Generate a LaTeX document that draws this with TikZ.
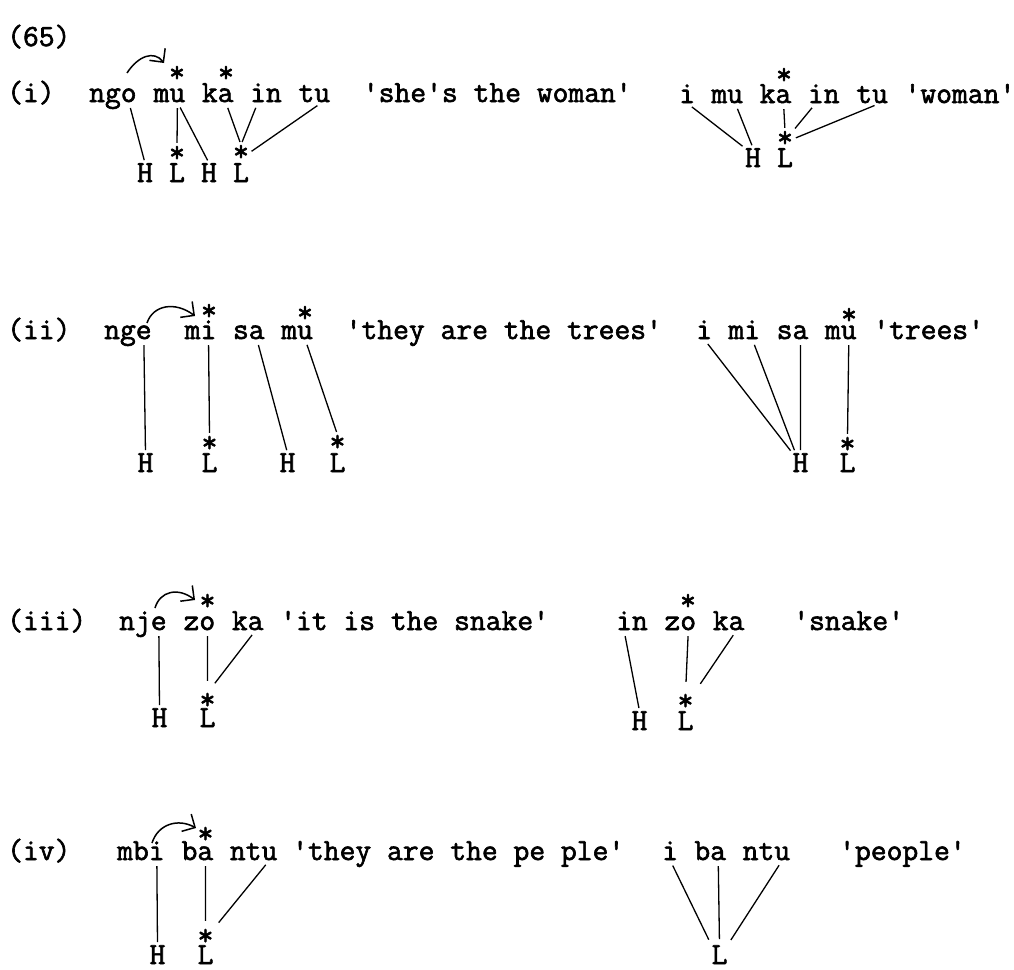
\documentclass[tikz,border=0pt]{standalone}
\usepackage{fontspec}
\setmonofont{Latin Modern Mono}[FakeBold=2]
\usepackage{tikz}
\usetikzlibrary{arrows.meta}

\begin{document}
\begin{tikzpicture}[x=1pt,y=1pt,
    every node/.style={font=\ttfamily\fontsize{30.7}{36}\selectfont, inner sep=0pt},
    syl/.style={anchor=base west, text depth=0pt},
    gloss/.style={anchor=base west},
    tone/.style={anchor=base},
    ast/.style={anchor=center},
    link/.style={line width=1.3pt, shorten <=6pt, shorten >=3pt},
    hop/.style={-{Straight Barb[scale=2.2]}, line width=1.5pt}]

\useasboundingbox (0,0) rectangle (1014,-969);

%---------------- Labels ----------------%
\node[gloss] (ex65) at (7,-46) {(65)};
\node[gloss] (lab1) at (7,-102) {(i)};
\node[gloss] (lab2) at (7,-339) {(ii)};
\node[gloss] (lab3) at (7,-630) {(iii)};
\node[gloss] (lab4) at (7,-860) {(iv)};

%---------------- (i) ----------------%
\node[syl] (ngo) at (89,-102) {ngo};
\node[syl] (mu1) at (153.4,-102) {mu};
\node[syl] (ka1) at (201.7,-102) {ka};
\node[syl] (in1) at (250,-102) {in};
\node[syl] (tu1) at (298.3,-102) {tu};
\node[gloss] (g1) at (362.7,-102) {'she's the woman'};
\node[ast] (s-mu1) at (177,-74) {*};
\node[ast] (s-ka1) at (226,-74) {*};

\node[tone] (H1a) at (145,-182) {H};
\node[tone] (L1a) at (177,-182) {L};
\node[tone] (H1b) at (209,-182) {H};
\node[tone] (L1b) at (241,-182) {L};
\node[ast] (s-L1a) at (177,-154) {*};
\node[ast] (s-L1b) at (241,-153) {*};

\draw[link] ([xshift=-8pt]ngo.south east) -- (H1a.north);
\draw[link] ([xshift=-8pt]mu1.south east) -- (s-L1a.north);
\draw[link] ([xshift=-8pt]mu1.south east) -- (H1b.north);
\draw[link] ([xshift=-8pt]ka1.south east) -- (s-L1b.north);
\draw[link] ([xshift=8pt]in1.south west) -- (s-L1b.north);
\draw[link] ([xshift=-8pt]tu1.south east) -- (s-L1b.east);

\coordinate (hop1s) at (127,-73);
\coordinate (hop1e) at (164,-63);
\draw[hop] (hop1s) .. controls (138,-56) and (154,-50) .. (hop1e);

\node[syl] (i1) at (679,-103) {i};
\node[syl] (mu1r) at (711.2,-103) {mu};
\node[syl] (ka1r) at (759.5,-103) {ka};
\node[syl] (in1r) at (807.8,-103) {in};
\node[syl] (tu1r) at (856.1,-103) {tu};
\node[gloss] (g1r) at (904.4,-103) {'woman'};
\node[ast] (s-ka1r) at (784,-76) {*};

\node[tone] (H1r) at (753,-167) {H};
\node[tone] (L1r) at (785,-167) {L};
\node[ast] (s-L1r) at (785,-139) {*};

\draw[link] (i1.south) -- (H1r.north west);
\draw[link] ([xshift=-8pt]mu1r.south east) -- (H1r.north);
\draw[link] ([xshift=-8pt]ka1r.south east) -- (s-L1r.north);
\draw[link] ([xshift=8pt]in1r.south west) -- (s-L1r.north east);
\draw[link] ([xshift=-8pt]tu1r.south east) -- (s-L1r.east);

%---------------- (ii) ----------------%
\node[syl] (nge) at (104,-339) {nge};
\node[syl] (mi2) at (184.5,-339) {mi};
\node[syl] (sa2) at (232.8,-339) {sa};
\node[syl] (mu2) at (281.1,-339) {mu};
\node[gloss] (g2) at (345.5,-339) {'they are the trees'};
\node[ast] (s-mi2) at (209,-312) {*};
\node[ast] (s-mu2) at (305,-314) {*};

\node[tone] (H2a) at (145.5,-472) {H};
\node[tone] (L2a) at (209.5,-472) {L};
\node[tone] (H2b) at (287.5,-472) {H};
\node[tone] (L2b) at (337.5,-472) {L};
\node[ast] (s-L2a) at (209.5,-444) {*};
\node[ast] (s-L2b) at (337.5,-443) {*};

\draw[link] ([xshift=-8pt]nge.south east) -- (H2a.north);
\draw[link] ([xshift=-8pt]mi2.south east) -- (s-L2a.north);
\draw[link] ([xshift=-8pt]sa2.south east) -- (H2b.north);
\draw[link] ([xshift=-8pt]mu2.south east) -- (s-L2b.north);

\coordinate (hop2s) at (147,-323);
\coordinate (hop2e) at (195,-316);
\draw[hop] (hop2s) .. controls (153,-305) and (175,-301) .. (hop2e);

\node[syl] (i2r) at (696,-339) {i};
\node[syl] (mi2r) at (728.2,-339) {mi};
\node[syl] (sa2r) at (776.5,-339) {sa};
\node[syl] (mu2r) at (824.8,-339) {mu};
\node[gloss] (g2r) at (873.1,-339) {'trees'};
\node[ast] (s-mu2r) at (849,-316) {*};

\node[tone] (H2r) at (800.5,-472) {H};
\node[tone] (L2r) at (847.5,-472) {L};
\node[ast] (s-L2r) at (847.5,-445) {*};

\draw[link] (i2r.south) -- (H2r.north west);
\draw[link] ([xshift=-8pt]mi2r.south east) -- ([xshift=-5pt]H2r.north);
\draw[link] ([xshift=-8pt]sa2r.south east) -- (H2r.north);
\draw[link] ([xshift=-8pt]mu2r.south east) -- (s-L2r.north);

%---------------- (iii) ----------------%
\node[syl] (nje) at (119,-630) {nje};
\node[syl] (zo3) at (183.4,-630) {zo};
\node[syl] (ka3) at (231.7,-630) {ka};
\node[gloss] (g3) at (280,-630) {'it is the snake'};
\node[ast] (s-zo3) at (207.5,-602) {*};

\node[tone] (H3) at (159.5,-727) {H};
\node[tone] (L3) at (207.5,-727) {L};
\node[ast] (s-L3) at (207.5,-701) {*};

\draw[link] ([xshift=-8pt]nje.south east) -- (H3.north);
\draw[link, shorten >=12pt] ([xshift=-8pt]zo3.south east) -- (s-L3.north);
\draw[link, shorten >=12pt] ([xshift=-8pt]ka3.south east) -- (s-L3.north);

\coordinate (hop3s) at (155,-608);
\coordinate (hop3e) at (195,-600);
\draw[hop] (hop3s) .. controls (160,-591) and (178,-587) .. (hop3e);

\node[syl] (in3r) at (616,-630) {in};
\node[syl] (zo3r) at (664.3,-630) {zo};
\node[syl] (ka3r) at (712.6,-630) {ka};
\node[gloss] (g3r) at (793.1,-630) {'snake'};
\node[ast] (s-zo3r) at (688,-602) {*};

\node[tone] (H3r) at (639.5,-730) {H};
\node[tone] (L3r) at (685.5,-730) {L};
\node[ast] (s-L3r) at (685.5,-702) {*};

\draw[link] ([xshift=8pt]in3r.south west) -- (H3r.north);
\draw[link, shorten >=12pt] ([xshift=-8pt]zo3r.south east) -- (s-L3r.north);
\draw[link, shorten >=12pt] ([xshift=-8pt]ka3r.south east) -- (s-L3r.north east);

%---------------- (iv) ----------------%
\node[syl] (mbi) at (117,-860) {mbi};
\node[syl] (ba4) at (181.4,-860) {ba};
\node[syl] (ntu4) at (229.7,-860) {ntu};
\node[gloss] (g4) at (292,-860) {'they are the pe ple'};
\node[ast] (s-ba4) at (205.5,-835) {*};

\node[tone] (H4) at (157.5,-964) {H};
\node[tone] (L4) at (205.5,-964) {L};
\node[ast] (s-L4) at (205.5,-937) {*};

\draw[link] ([xshift=-8pt]mbi.south east) -- (H4.north);
\draw[link, shorten >=8pt] ([xshift=-8pt]ba4.south east) -- (s-L4.north);
\draw[link, shorten >=8pt] ([xshift=-8pt]ntu4.south east) -- (s-L4.north east);

\coordinate (hop4s) at (152,-843);
\coordinate (hop4e) at (196,-828);
\draw[hop] (hop4s) .. controls (158,-824) and (178,-818) .. (hop4e);

\node[syl] (i4r) at (662,-860) {i};
\node[syl] (ba4r) at (694.2,-860) {ba};
\node[syl] (ntu4r) at (742.5,-860) {ntu};
\node[gloss] (g4r) at (839,-860) {'people'};

\node[tone] (L4r) at (719.5,-964) {L};

\draw[link, shorten >=6pt] (i4r.south) -- (L4r.north west);
\draw[link, shorten >=6pt] ([xshift=-8pt]ba4r.south east) -- (L4r.north);
\draw[link, shorten >=6pt] ([xshift=-8pt]ntu4r.south east) -- (L4r.north east);

\end{tikzpicture}
\end{document}
